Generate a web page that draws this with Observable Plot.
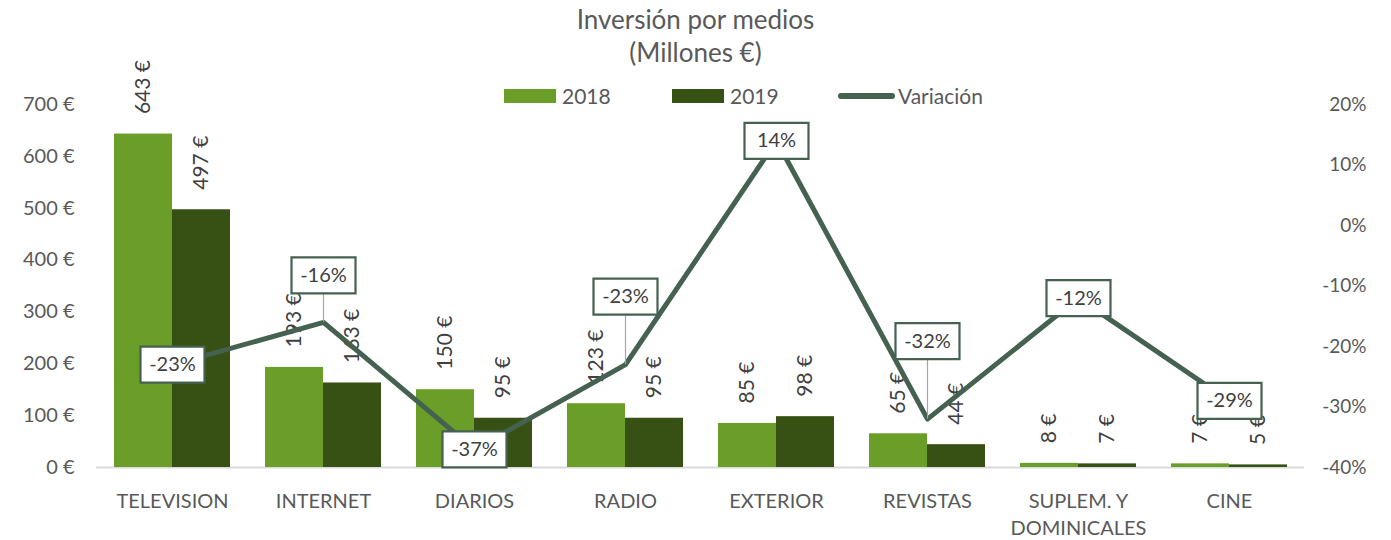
<!DOCTYPE html>
<html>
<head>
<meta charset="utf-8">
<script src="https://cdn.jsdelivr.net/npm/d3@7"></script>
<script src="https://cdn.jsdelivr.net/npm/@observablehq/plot@0.6"></script>
<style>
  html, body { margin: 0; padding: 0; background: #fff; }
  #wrap { position: relative; width: 1391px; height: 540px; font-family: Lato, "Open Sans", sans-serif; color: #595959; }
  .title { position: absolute; left: 0; width: 1391px; text-align: center; font-size: 26px; line-height: 30px; }
  .leg { position: absolute; top: 83px; font-size: 21px; line-height: 26px; display: flex; align-items: center; }
  .sw { display: inline-block; width: 52px; height: 14px; margin-right: 6px; }
  .ln { display: inline-block; width: 57px; height: 6px; border-radius: 3px; margin-right: 3px; }
  #chart { position: absolute; left: 0; top: 0; }
</style>
</head>
<body>
<div id="wrap">
  <div class="title" style="top:4px">Inversión por medios</div>
  <div class="title" style="top:37px">(Millones €)</div>
  <div class="leg" style="left:504px"><span class="sw" style="background:#6a9e28"></span>2018</div>
  <div class="leg" style="left:672px"><span class="sw" style="background:#375013"></span>2019</div>
  <div class="leg" style="left:838px"><span class="ln" style="background:#456150"></span>Variación</div>
  <div id="chart"></div>
</div>
<script>
const categories = ["TELEVISION", "INTERNET", "DIARIOS", "RADIO", "EXTERIOR", "REVISTAS", "SUPLEM. Y DOMINICALES", "CINE"];
const values2018 = [643, 193, 150, 123, 85, 65, 8, 7];
const values2019 = [497, 163, 95, 95, 98, 44, 7, 5];
const variation = [-23, -16, -37, -23, 14, -32, -12, -29];
const leftTicks = [0, 100, 200, 300, 400, 500, 600, 700];
const rightTicks = [-40, -30, -20, -10, 0, 10, 20];

const C2018 = "#6a9e28", C2019 = "#375013", CLINE = "#456150";
const pctMin = -40, pctMax = 20, yMax = 700;
const toY = p => (p - pctMin) / (pctMax - pctMin) * yMax;
const fromY = v => v / yMax * (pctMax - pctMin) + pctMin;

const rows = categories.map((c, i) => ({cat: c, v18: values2018[i], v19: values2019[i], pct: variation[i], py: toY(variation[i])}));

const labelOffset = {"INTERNET": -47, "RADIO": -68, "REVISTAS": -78};
const centered = rows.filter(d => !(d.cat in labelOffset));
const shifted = rows.filter(d => d.cat in labelOffset);

const boxSymbol = {draw(ctx) { ctx.moveTo(-32, -18); ctx.lineTo(32, -18); ctx.lineTo(32, 18); ctx.lineTo(-32, 18); ctx.closePath(); }};

const half = 29;
const fmtEur = d => d + " €";

const labelMarks = [];
for (const d of shifted) {
  const dy = labelOffset[d.cat];
  labelMarks.push(Plot.ruleX([d], {x: "cat", y1: "py", y2: "py", insetTop: -(-dy - 18), stroke: "#a6a6a6", strokeWidth: 1.2}));
}
labelMarks.push(Plot.dot(centered, {x: "cat", y: "py", symbol: boxSymbol, fill: "white", stroke: CLINE, strokeWidth: 2.2}));
labelMarks.push(Plot.text(centered, {x: "cat", y: "py", text: d => d.pct + "%", fill: "#404040", fontSize: 20}));
for (const d of shifted) {
  const dy = labelOffset[d.cat];
  labelMarks.push(Plot.dot([d], {x: "cat", y: "py", dy, symbol: boxSymbol, fill: "white", stroke: CLINE, strokeWidth: 2.2}));
  labelMarks.push(Plot.text([d], {x: "cat", y: "py", dy, text: d => d.pct + "%", fill: "#404040", fontSize: 20}));
}

const plot = Plot.plot({
  width: 1391,
  height: 540,
  marginLeft: 96,
  marginRight: 87,
  marginTop: 104,
  marginBottom: 73,
  style: {fontFamily: "Lato, 'Open Sans', sans-serif", fontSize: "20px", color: "#595959", background: "transparent"},
  x: {type: "band", domain: categories, paddingInner: 0.232, paddingOuter: 0.115, axis: null},
  y: {domain: [0, yMax], axis: null},
  marks: [
    Plot.ruleY([0], {stroke: "#d9d9d9", strokeWidth: 2}),
    Plot.barY(rows, {x: "cat", y: "v18", fill: C2018, insetRight: half * 2}),
    Plot.barY(rows, {x: "cat", y: "v19", fill: C2019, insetLeft: half * 2}),
    Plot.axisY(leftTicks, {anchor: "left", tickSize: 0, tickPadding: 22, tickFormat: fmtEur, fontSize: 20, label: null}),
    Plot.axisY(rightTicks.map(toY), {anchor: "right", tickSize: 0, tickPadding: 62, textAnchor: "end", tickFormat: d => Math.round(fromY(d)) + "%", fontSize: 19, label: null}),
    Plot.axisX(categories, {anchor: "bottom", tickSize: 0, tickPadding: 21, lineHeight: 1.35, tickFormat: d => d.replace("SUPLEM. Y ", "SUPLEM. Y\n"), fontSize: 20, label: null}),
    Plot.text(rows, {x: "cat", y: "v18", dx: -half, dy: -20, rotate: -90, text: d => fmtEur(d.v18), textAnchor: "start", fill: "#404040", fontSize: 21}),
    Plot.text(rows, {x: "cat", y: "v19", dx: half, dy: -20, rotate: -90, text: d => fmtEur(d.v19), textAnchor: "start", fill: "#404040", fontSize: 21}),
    Plot.line(rows, {x: "cat", y: "py", stroke: CLINE, strokeWidth: 5, strokeLinejoin: "round"}),
    ...labelMarks
  ]
});
document.getElementById("chart").appendChild(plot);
</script>
</body>
</html>
